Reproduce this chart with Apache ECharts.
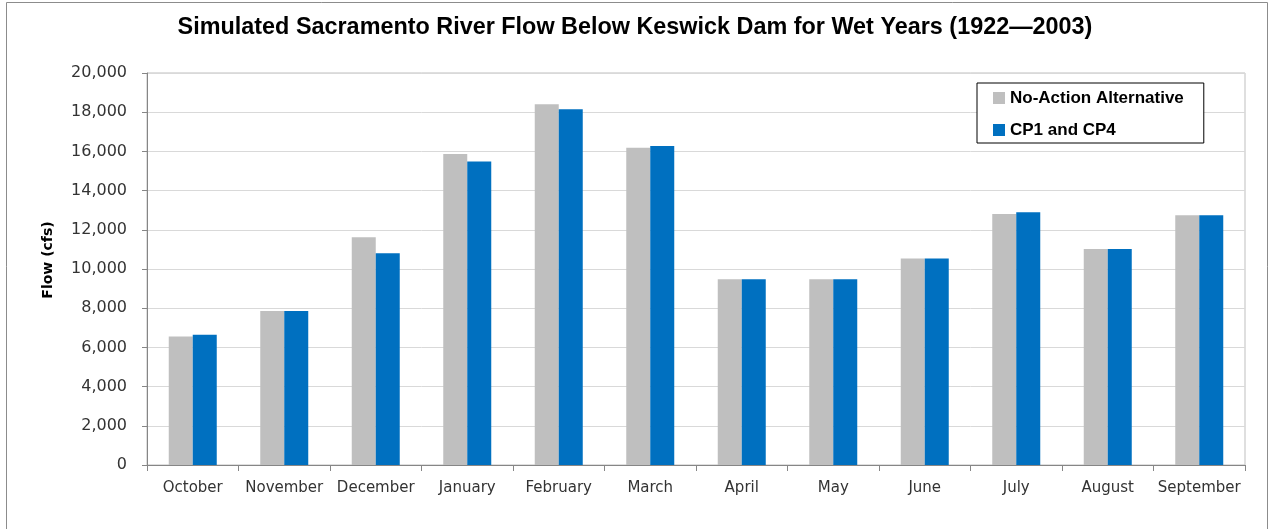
<!DOCTYPE html>
<html lang="en">
<head>
  <meta charset="UTF-8" />
  <title>Sacramento River Flow Below Keswick Dam</title>
  <style>
    body { margin: 0; padding: 0; background: #fff }
    #chart { width: 1270px; height: 529px }
  </style>
  <script src="https://cdn.jsdelivr.net/npm/echarts@6/dist/echarts.min.js"></script>
</head>
<body>
  <div id="chart"></div>

  <script>
    // 月份（水文年，从 10 月开始）
    const months = ['October', 'November', 'December', 'January', 'February', 'March',
      'April', 'May', 'June', 'July', 'August', 'September'];

    // 流量 (cfs)
    const noAction = [6550, 7860, 11620, 15870, 18400, 16190, 9480, 9480, 10530, 12800, 11020, 12740];
    const cp1cp4   = [6650, 7860, 10800, 15480, 18150, 16280, 9480, 9480, 10530, 12890, 11020, 12740];

    const seriesNames = ['No-Action Alternative', 'CP1 and CP4'];

    const chart = echarts.init(document.getElementById('chart'));

    chart.setOption({
      backgroundColor: '#ffffff',
      animation: false,
      // 外框
      graphic: [{
        type: 'rect',
        shape: { x: 6.5, y: 2.5, width: 1261, height: 540 },
        style: { fill: 'none', stroke: '#8c8c8c', lineWidth: 1 },
        silent: true
      }],
      title: {
        text: 'Simulated Sacramento River Flow Below Keswick Dam for Wet Years (1922\u20142003)',
        left: 'center',
        top: 11,
        textStyle: {
          fontFamily: 'Liberation Sans',
          fontWeight: 'bold',
          fontSize: 23.4,
          color: '#000'
        }
      },
      legend: {
        orient: 'vertical',
        left: 977,
        top: 83,
        itemWidth: 12,
        itemHeight: 12,
        itemGap: 12,
        padding: [5, 20, 3, 16],
        borderColor: '#000',
        borderWidth: 1,
        backgroundColor: '#fff',
        icon: 'rect',
        textStyle: {
          fontFamily: 'Liberation Sans',
          fontWeight: 'bold',
          fontSize: 17,
          lineHeight: 20,
          color: '#000'
        },
        data: seriesNames
      },
      grid: {
        left: 147,
        right: 25,
        top: 73,
        bottom: 64,
        show: true,
        borderColor: '#bfbfbf',
        borderWidth: 1
      },
      xAxis: {
        type: 'category',
        data: months,
        axisLine: { lineStyle: { color: '#868686' } },
        axisTick: { show: true, length: 6, interval: 0, lineStyle: { color: '#868686' } },
        axisLabel: {
          interval: 0,
          margin: 16,
          fontFamily: 'DejaVu Sans',
          fontSize: 15,
          color: '#333'
        }
      },
      yAxis: {
        type: 'value',
        min: 0,
        max: 20000,
        interval: 2000,
        name: 'Flow (cfs)',
        nameLocation: 'middle',
        nameRotate: 90,
        nameGap: 92,
        nameTextStyle: {
          fontFamily: 'DejaVu Sans',
          fontWeight: 'bold',
          fontSize: 14,
          color: '#000',
          padding: [0, 0, 0, 18]
        },
        axisLine: { show: true, lineStyle: { color: '#868686' } },
        axisTick: { show: true, length: 5, lineStyle: { color: '#868686' } },
        splitLine: { lineStyle: { color: '#d9d9d9' } },
        axisLabel: {
          margin: 20,
          fontFamily: 'DejaVu Sans',
          fontSize: 16,
          color: '#333',
          formatter: v => v.toLocaleString('en-US')
        }
      },
      series: [
        {
          name: seriesNames[0],
          type: 'bar',
          data: noAction,
          barWidth: 24,
          barGap: '0%',
          itemStyle: { color: '#bfbfbf' }
        },
        {
          name: seriesNames[1],
          type: 'bar',
          data: cp1cp4,
          barWidth: 24,
          barGap: '0%',
          itemStyle: { color: '#0070c0' }
        }
      ]
    });
  </script>
</body>
</html>
